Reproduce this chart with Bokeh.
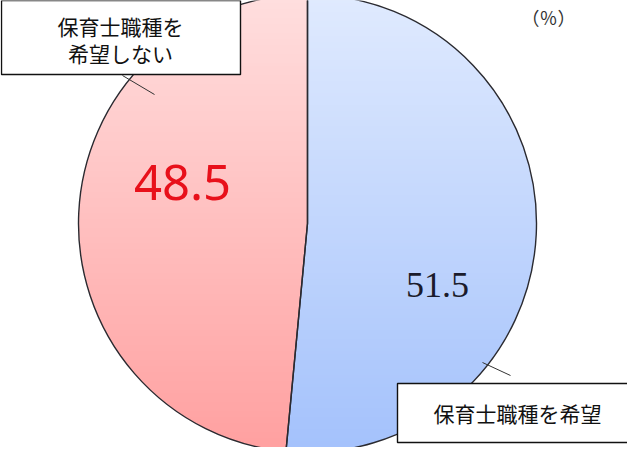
import numpy as np
from bokeh.plotting import figure
from bokeh.models import Range1d
from bokeh.core.properties import value
from bokeh.embed import file_html
from bokeh.resources import INLINE

# ---- data ----
categories = ["保育士職種を希望", "保育士職種を希望しない"]
shares = [51.5, 48.5]
value_labels = ["51.5", "48.5"]
unit_label = "（％）"

base_colors = ["#A4C2FC", "#FFA0A0"]
value_colors = ["#1B1B2B", "#E8101A"]

# ---- geometry ----
W, H = 627, 447
cx, cy, r = 315, 232, 229

p = figure(width=W, height=H, output_backend="svg", toolbar_location=None,
           x_range=Range1d(8, 8 + W), y_range=Range1d(8, 8 + H),
           min_border=0)
p.axis.visible = False
p.grid.visible = False
p.outline_line_color = None
p.background_fill_color = "white"
p.border_fill_color = "white"

# angles: start at top, clockwise
total = sum(shares)
fr = np.cumsum([0] + shares) / total
start_deg = 90 - fr[1:] * 360
end_deg = 90 - fr[:-1] * 360
starts = np.deg2rad(start_deg)
ends = np.deg2rad(end_deg)

p.wedge(x=[cx] * 2, y=[cy] * 2, radius=r, start_angle=starts, end_angle=ends,
        fill_color=base_colors, line_color=None)

# vertical gradient: white bands, lighter towards top
step = 3
edges = np.arange(cy - r - 1, cy + r + 2 + step, step) + 0.5
mids = (edges[:-1] + edges[1:]) / 2
alphas = np.clip(0.66 * (mids - (cy - r)) / (2 * r), 0, 0.66)
p.quad(left=cx - r - 2, right=cx + r + 2, bottom=edges[:-1], top=edges[1:],
       fill_color="white", fill_alpha=alphas, line_color=None)

# outlines
p.wedge(x=[cx] * 2, y=[cy] * 2, radius=r, start_angle=starts, end_angle=ends,
        fill_color=None, line_color="#2A2A30", line_width=1.4)

# leader lines
p.segment(x0=[130, 490], y0=[380, 93], x1=[162, 518], y1=[361, 80],
          line_color="#333333", line_width=1)

# label boxes
p.quad(left=[9, 405], right=[248, 646], bottom=[381, 13], top=[455, 72],
       fill_color="white", line_color="#111111", line_width=1.4)

cjk = value("Noto Sans CJK JP")
p.text(x=[128, 128], y=[430, 403], text=["保育士職種を", "希望しない"],
       text_font=cjk, text_font_size="21px", text_color="#111111",
       text_align="center", text_baseline="middle")
p.text(x=[525], y=[43], text=[categories[0]],
       text_font=cjk, text_font_size="21px", text_color="#111111",
       text_align="center", text_baseline="middle")

# values
p.text(x=[445], y=[171], text=[value_labels[0]], text_font=value("Liberation Serif"),
       text_font_size="36px", text_color=value_colors[0],
       text_align="center", text_baseline="middle")
p.text(x=[190], y=[273], text=[value_labels[1]], text_font=value("Noto Sans"),
       text_font_size="49px", text_color=value_colors[1],
       text_align="center", text_baseline="middle")

p.text(x=[556], y=[439], text=[unit_label], text_font=cjk,
       text_font_size="18px", text_color="#333333",
       text_align="center", text_baseline="middle")

open("out.html", "w").write(file_html(p, INLINE))
